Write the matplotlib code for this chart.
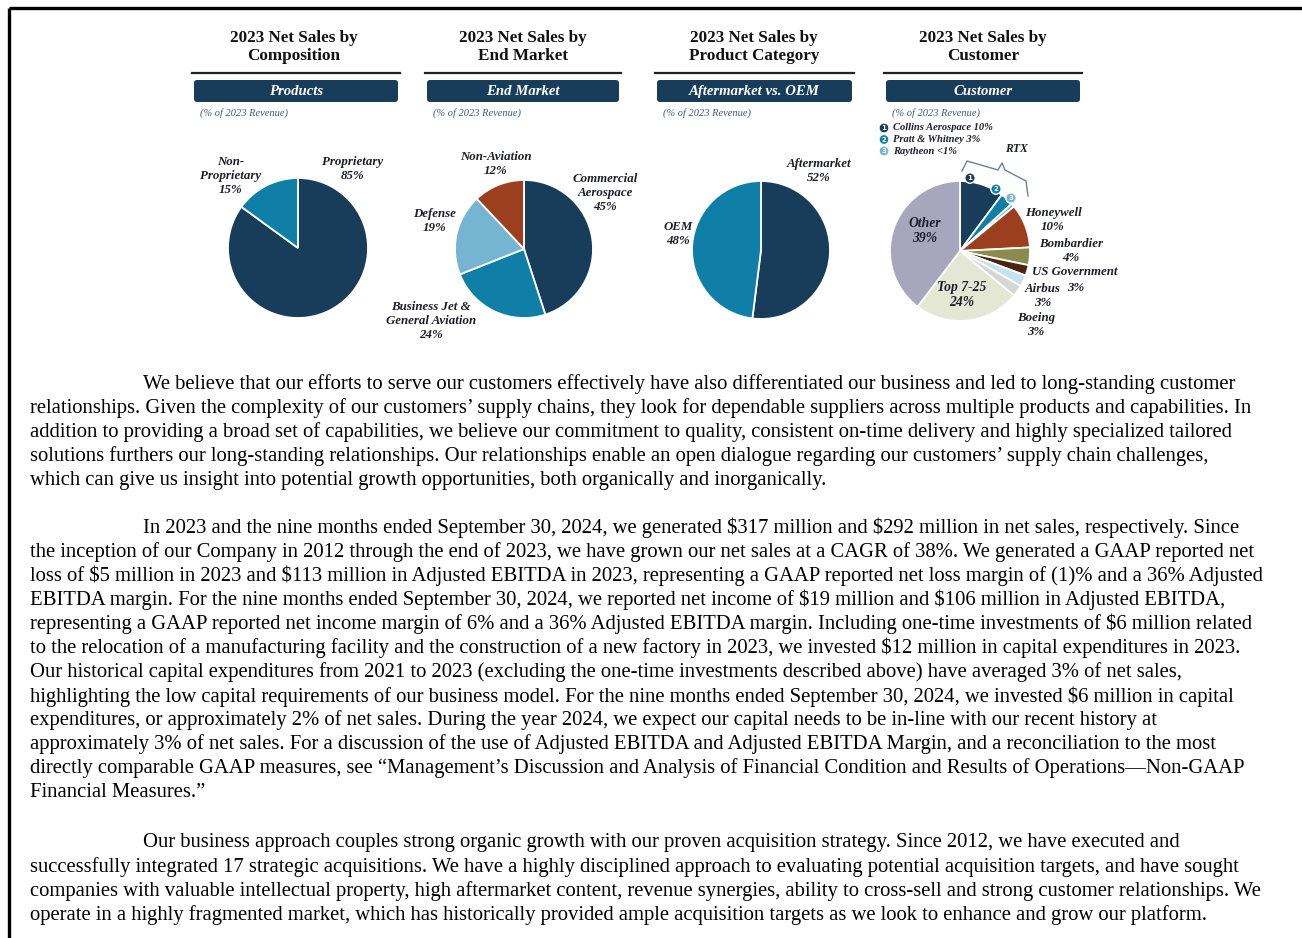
import matplotlib
matplotlib.use('Agg')
import matplotlib.pyplot as plt
from matplotlib.patches import FancyBboxPatch, Circle

W, H = 1302, 938
SERIF = ['Liberation Serif', 'DejaVu Serif']

# colours
navy = '#173d5a'
teal = '#0f7fa8'
sky = '#76b5d2'
rust = '#9b3f1f'
olive = '#8b8b4e'
brown = '#4b2410'
pale_blue = '#c6e2f0'
grey = '#d6d6d6'
cream = '#e5e7d5'
lavender = '#a7a6bd'
ink = '#1d1d2b'

# ---- data ----
comp_labels = ['Proprietary', 'Non-Proprietary']
comp_values = [85, 15]
comp_colors = [navy, teal]

end_labels = ['Commercial Aerospace', 'Business Jet & General Aviation', 'Defense', 'Non-Aviation']
end_values = [45, 24, 19, 12]
end_colors = [navy, teal, sky, rust]

cat_labels = ['Aftermarket', 'OEM']
cat_values = [52, 48]
cat_colors = [navy, teal]

cust_labels = ['Collins Aerospace', 'Pratt & Whitney', 'Raytheon', 'Honeywell', 'Bombardier',
               'US Government', 'Airbus', 'Boeing', 'Top 7-25', 'Other']
cust_values = [10, 3, 0.8, 10, 4, 2.4, 2.6, 2.6, 24, 39]
cust_colors = [navy, teal, sky, rust, olive, brown, pale_blue, grey, cream, lavender]

panel_titles = ['2023 Net Sales by\nComposition', '2023 Net Sales by\nEnd Market',
                '2023 Net Sales by\nProduct Category', '2023 Net Sales by\nCustomer']
panel_boxes = ['Products', 'End Market', 'Aftermarket vs. OEM', 'Customer']

para1 = [
    "We believe that our efforts to serve our customers effectively have also differentiated our business and led to long-standing customer",
    "relationships. Given the complexity of our customers\u2019 supply chains, they look for dependable suppliers across multiple products and capabilities. In",
    "addition to providing a broad set of capabilities, we believe our commitment to quality, consistent on-time delivery and highly specialized tailored",
    "solutions furthers our long-standing relationships. Our relationships enable an open dialogue regarding our customers\u2019 supply chain challenges,",
    "which can give us insight into potential growth opportunities, both organically and inorganically.",
]
para2 = [
    "In 2023 and the nine months ended September 30, 2024, we generated $317 million and $292 million in net sales, respectively. Since",
    "the inception of our Company in 2012 through the end of 2023, we have grown our net sales at a CAGR of 38%. We generated a GAAP reported net",
    "loss of $5 million in 2023 and $113 million in Adjusted EBITDA in 2023, representing a GAAP reported net loss margin of (1)% and a 36% Adjusted",
    "EBITDA margin. For the nine months ended September 30, 2024, we reported net income of $19 million and $106 million in Adjusted EBITDA,",
    "representing a GAAP reported net income margin of 6% and a 36% Adjusted EBITDA margin. Including one-time investments of $6 million related",
    "to the relocation of a manufacturing facility and the construction of a new factory in 2023, we invested $12 million in capital expenditures in 2023.",
    "Our historical capital expenditures from 2021 to 2023 (excluding the one-time investments described above) have averaged 3% of net sales,",
    "highlighting the low capital requirements of our business model. For the nine months ended September 30, 2024, we invested $6 million in capital",
    "expenditures, or approximately 2% of net sales. During the year 2024, we expect our capital needs to be in-line with our recent history at",
    "approximately 3% of net sales. For a discussion of the use of Adjusted EBITDA and Adjusted EBITDA Margin, and a reconciliation to the most",
    "directly comparable GAAP measures, see \u201cManagement\u2019s Discussion and Analysis of Financial Condition and Results of Operations\u2014Non-GAAP",
    "Financial Measures.\u201d",
]
para3 = [
    "Our business approach couples strong organic growth with our proven acquisition strategy. Since 2012, we have executed and",
    "successfully integrated 17 strategic acquisitions. We have a highly disciplined approach to evaluating potential acquisition targets, and have sought",
    "companies with valuable intellectual property, high aftermarket content, revenue synergies, ability to cross-sell and strong customer relationships. We",
    "operate in a highly fragmented market, which has historically provided ample acquisition targets as we look to enhance and grow our platform.",
]

fig = plt.figure(figsize=(W / 100, H / 100), dpi=100)
fig.patch.set_facecolor('white')


def pie_axes(cx, cy, r, values, colors):
    a = fig.add_axes([(cx - r) / W, 1 - (cy + r) / H, 2 * r / W, 2 * r / H])
    wedges, _ = a.pie(values, colors=colors, startangle=90, counterclock=False,
                      wedgeprops=dict(edgecolor='white', linewidth=1.3))
    for w in wedges:
        w.set_clip_on(False)
    a.set_xlim(-1, 1)
    a.set_ylim(-1, 1)
    a.axis('off')
    return a


pie_axes(298, 248, 70, comp_values, comp_colors)
pie_axes(524, 249, 69, end_values, end_colors)
pie_axes(761, 250, 69, cat_values, cat_colors)
pie_axes(960, 251, 70, cust_values, cust_colors)

ax = fig.add_axes([0, 0, 1, 1])
ax.set_xlim(0, W)
ax.set_ylim(H, 0)
ax.axis('off')
ax.patch.set_alpha(0)

# page border
ax.plot([9, W], [8, 8], color='black', lw=2.4, solid_capstyle='butt')
ax.plot([9, 9], [8, H], color='black', lw=2.4, solid_capstyle='butt')

# panel headers
centers = [294, 523, 754, 983]
rules = [(192, 400), (425, 621), (655, 854), (884, 1082)]
for cx, (x0, x1), title, box in zip(centers, rules, panel_titles, panel_boxes):
    ax.text(cx, 47, title, ha='center', va='center', family=SERIF, fontweight='bold',
            fontsize=12.3, color='#111111', linespacing=1.25)
    ax.plot([x0, x1], [73, 73], color='#222222', lw=1.6)
    ax.add_patch(FancyBboxPatch((x0 + 2, 80), x1 - x0 - 4, 22,
                                boxstyle='round,pad=0,rounding_size=3',
                                facecolor=navy, edgecolor='none'))
    ax.text((x0 + x1) / 2, 91.5, box, ha='center', va='center', family=SERIF,
            fontweight='bold', style='italic', fontsize=10.6, color='white')
    ax.text(x0 + 8, 113, '(% of 2023 Revenue)', ha='left', va='center', family=SERIF,
            style='italic', fontsize=7.5, color='#3d5a78')


def label(x, y, s, size=9.3):
    ax.text(x, y, s, ha='center', va='center', family=SERIF, fontweight='bold',
            style='italic', fontsize=size, color=ink, linespacing=1.22)


# pie labels
label(231, 176, 'Non-\nProprietary\n15%')
label(353, 169, 'Proprietary\n85%')
label(496, 164, 'Non-Aviation\n12%')
label(605, 193, 'Commercial\nAerospace\n45%')
label(435, 221, 'Defense\n19%')
label(431, 321, 'Business Jet &\nGeneral Aviation\n24%')
label(819, 171, 'Aftermarket\n52%')
label(678, 234, 'OEM\n48%')
label(925, 231, 'Other\n39%', 9.8)
label(962, 295, 'Top 7-25\n24%', 9.8)
label(1053, 220, 'Honeywell\n10%')
label(1071, 251, 'Bombardier\n4%')
label(1075, 272, 'US Government')
label(1076, 288, '3%')
label(1043, 296, 'Airbus\n3%')
label(1036, 325, 'Boeing\n3%')
label(1016, 149, 'RTX', 8.5)

# customer legend for the RTX pieces
rtx_names = [f'{cust_labels[0]} 10%', f'{cust_labels[1]} 3%', f'{cust_labels[2]} <1%']
for i, (name, col) in enumerate(zip(rtx_names, cust_colors[:3])):
    y = 128 + i * 11.5
    ax.add_patch(Circle((884, y), 4.8, facecolor=col, edgecolor='white', lw=0.6))
    ax.text(884, y + 0.3, str(i + 1), ha='center', va='center', fontsize=5,
            fontweight='bold', color='white', family='DejaVu Sans')
    ax.text(893, y, name, ha='left', va='center', family=SERIF, fontweight='bold',
            style='italic', fontsize=7.6, color=ink)

# numbered markers on the pie
for i, (mx, my) in enumerate([(970, 178), (996, 189), (1011, 198)]):
    ax.add_patch(Circle((mx, my), 5.2, facecolor=cust_colors[i], edgecolor='white', lw=1.0, zorder=5))
    ax.text(mx, my + 0.3, str(i + 1), ha='center', va='center', fontsize=5,
            fontweight='bold', color='white', family='DejaVu Sans', zorder=6)

# RTX brace
bx = [962, 967, 998, 1002, 1005, 1026, 1028]
by = [171, 161, 170, 163, 170, 181, 196]
ax.plot(bx, by, color='#6b8199', lw=1.0)


# body text
def paragraph(lines, y0):
    for i, line in enumerate(lines):
        x = 143 if i == 0 else 30
        ax.text(x, y0 + i * 24.05, line, ha='left', va='center', family=SERIF,
                fontsize=14.85, color='black', parse_math=False)


paragraph(para1, 384)
paragraph(para2, 528)
paragraph(para3, 843)

fig.savefig('out.png', dpi=100)
